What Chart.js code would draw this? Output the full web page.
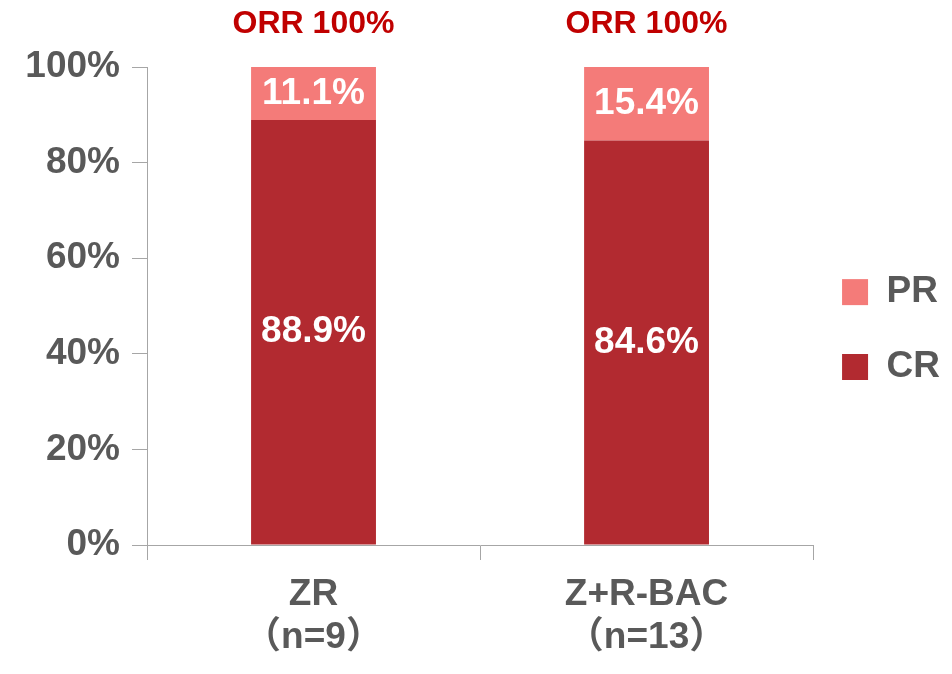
<!DOCTYPE html>
<html>
<head>
<meta charset="utf-8">
<script src="https://cdn.jsdelivr.net/npm/chart.js@4"></script>
<style>
  body { margin: 0; background: #fff; }
  #wrap { width: 952px; height: 674px; }
</style>
</head>
<body>
<div id="wrap"><canvas id="orr-chart"></canvas></div>
<script>
var categories = [['ZR', '（n=9）'], ['Z+R-BAC', '（n=13）']];
var crValues = [88.9, 84.6];
var prValues = [11.1, 15.4];
var orrLabels = ['ORR 100%', 'ORR 100%'];
var yTicks = [0, 20, 40, 60, 80, 100];

var FONT = '"Liberation Sans", Arial, "Noto Sans CJK SC", sans-serif';
var GRAY = '#595959';
var AXIS = '#A6A6A6';

var barLabels = {
    id: 'barLabels',
    afterDatasetsDraw: function(chart) {
        var ctx = chart.ctx;
        ctx.save();
        ctx.textAlign = 'center';
        ctx.textBaseline = 'middle';
        ctx.font = 'bold 37px ' + FONT;
        ctx.fillStyle = '#ffffff';
        chart.data.datasets.forEach(function(ds, di) {
            chart.getDatasetMeta(di).data.forEach(function(bar, i) {
                var p = bar.getProps(['x', 'y', 'base'], true);
                ctx.fillText(ds.data[i].toFixed(1) + '%', p.x, (p.y + p.base) / 2);
            });
        });
        // ORR text above each bar
        ctx.font = 'bold 32px ' + FONT;
        ctx.fillStyle = '#C00000';
        orrLabels.forEach(function(t, i) {
            ctx.fillText(t, chart.scales.x.getPixelForValue(i), chart.chartArea.top - 43);
        });
        ctx.restore();
    }
};

window.onload = function() {
    var ctx = document.getElementById('orr-chart');
    new Chart(ctx, {
        type: 'bar',
        data: {
            labels: categories,
            datasets: [
                { label: 'CR', data: crValues, backgroundColor: '#B22A30', borderWidth: 0 },
                { label: 'PR', data: prValues, backgroundColor: '#F47B79', borderWidth: 0 }
            ]
        },
        options: {
            responsive: true,
            maintainAspectRatio: false,
            animation: false,
            layout: { padding: { left: 0, right: 2, top: 0, bottom: 6 } },
            datasets: { bar: { categoryPercentage: 1, barPercentage: 0.375 } },
            scales: {
                x: {
                    stacked: true,
                    grid: { drawOnChartArea: false, tickLength: 15, color: AXIS, offset: true },
                    border: { color: AXIS },
                    ticks: { color: GRAY, padding: 13, font: { family: FONT, size: 37, weight: 'bold', lineHeight: 1.17 } },
                    afterFit: function(scale) { scale.height = 123; }
                },
                y: {
                    stacked: true,
                    min: 0,
                    max: 100,
                    afterBuildTicks: function(scale) {
                        scale.ticks = yTicks.map(function(v) { return { value: v }; });
                    },
                    grid: { drawOnChartArea: false, tickLength: 15, color: AXIS },
                    border: { color: AXIS },
                    ticks: {
                        color: GRAY,
                        padding: 12,
                        font: { family: FONT, size: 37, weight: 'bold' },
                        callback: function(v) { return v + '%'; }
                    },
                    afterFit: function(scale) { scale.width = 147; }
                }
            },
            plugins: {
                title: { display: true, text: '', font: { size: 10, lineHeight: 1 }, padding: { top: 0, bottom: 57 } },
                tooltip: { enabled: false },
                legend: {
                    position: 'right',
                    reverse: true,
                    labels: {
                        boxWidth: 26,
                        boxHeight: 26,
                        padding: 29,
                        color: GRAY,
                        font: { family: FONT, size: 37, weight: 'bold', lineHeight: 1.24 },
                        generateLabels: function(chart) {
                            var items = Chart.defaults.plugins.legend.labels.generateLabels(chart);
                            items.forEach(function(it) { it.text = [it.text]; });
                            return items;
                        }
                    }
                }
            }
        },
        plugins: [barLabels]
    });
};
</script>
</body>
</html>
